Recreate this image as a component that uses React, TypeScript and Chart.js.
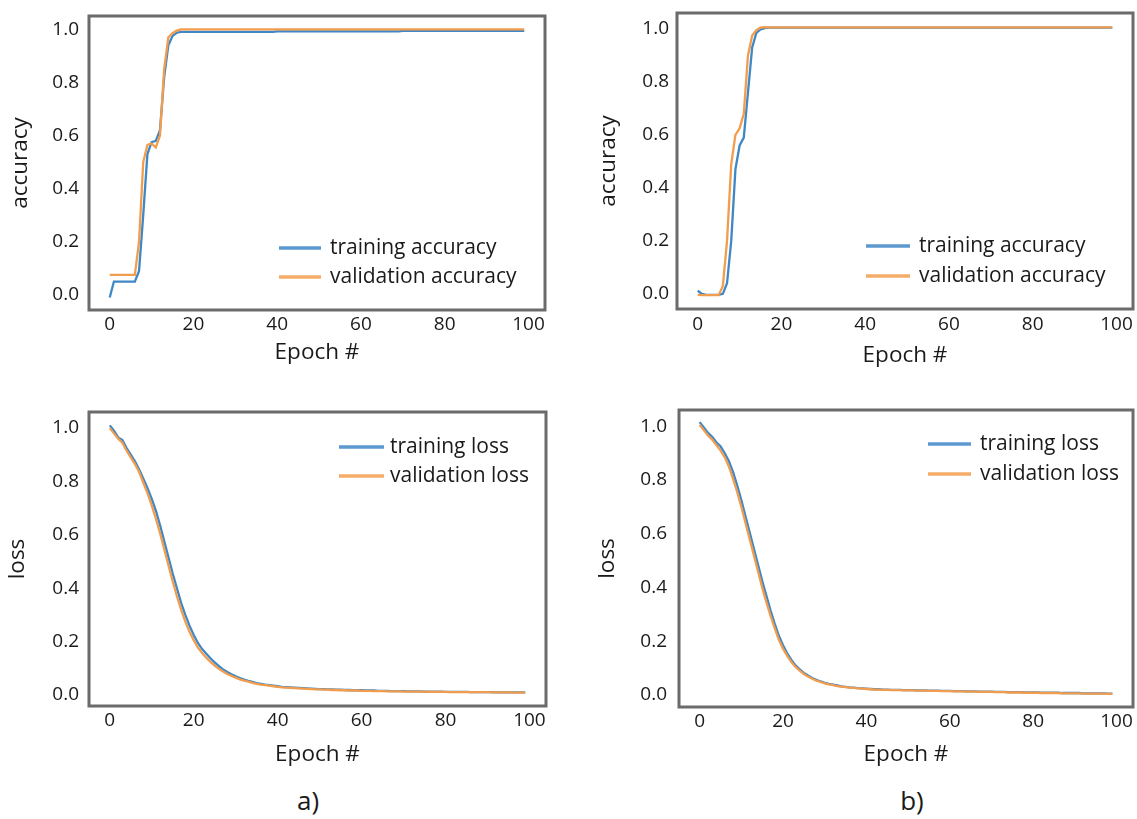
import React, { useEffect, useRef } from "react";
import { Chart, registerables } from "chart.js";
Chart.register(...registerables);

const epochs = [
  0, 1, 2, 3, 4, 5, 6, 7, 8, 9, 10, 11, 12, 13, 14, 15, 16, 17, 18, 19,
  20, 21, 22, 23, 24, 25, 26, 27, 28, 29, 30, 31, 32, 33, 34, 35, 36, 37, 38, 39,
  40, 41, 42, 43, 44, 45, 46, 47, 48, 49, 50, 51, 52, 53, 54, 55, 56, 57, 58, 59,
  60, 61, 62, 63, 64, 65, 66, 67, 68, 69, 70, 71, 72, 73, 74, 75, 76, 77, 78, 79,
  80, 81, 82, 83, 84, 85, 86, 87, 88, 89, 90, 91, 92, 93, 94, 95, 96, 97, 98, 99,
];
const xTickValues = [0, 20, 40, 60, 80, 100];
const yTickValues = [0, 0.2, 0.4, 0.6, 0.8, 1.0];

// a) accuracy
const accTrainA = [
  -0.01, 0.05, 0.05, 0.05, 0.05, 0.05, 0.05, 0.09, 0.3, 0.53,
  0.575, 0.58, 0.62, 0.82, 0.94, 0.975, 0.987, 0.99, 0.99, 0.99,
  0.99, 0.99, 0.99, 0.99, 0.99, 0.99, 0.99, 0.99, 0.99, 0.99,
  0.99, 0.99, 0.99, 0.99, 0.99, 0.99, 0.99, 0.99, 0.99, 0.99,
  0.992, 0.992, 0.992, 0.992, 0.992, 0.992, 0.992, 0.992, 0.992, 0.992,
  0.992, 0.992, 0.992, 0.992, 0.992, 0.992, 0.992, 0.992, 0.992, 0.992,
  0.992, 0.992, 0.992, 0.992, 0.992, 0.992, 0.992, 0.992, 0.992, 0.992,
  0.994, 0.994, 0.994, 0.994, 0.994, 0.994, 0.994, 0.994, 0.994, 0.994,
  0.994, 0.994, 0.994, 0.994, 0.994, 0.994, 0.994, 0.994, 0.994, 0.994,
  0.994, 0.994, 0.994, 0.994, 0.994, 0.994, 0.994, 0.994, 0.994, 0.994,
];
const accValA = [
  0.075, 0.075, 0.075, 0.075, 0.075, 0.075, 0.075, 0.2, 0.5, 0.565,
  0.57, 0.555, 0.6, 0.85, 0.97, 0.985, 0.995, 1.0, 1.0, 1.0,
  1.0, 1.0, 1.0, 1.0, 1.0, 1.0, 1.0, 1.0, 1.0, 1.0,
  1.0, 1.0, 1.0, 1.0, 1.0, 1.0, 1.0, 1.0, 1.0, 1.0,
  1.0, 1.0, 1.0, 1.0, 1.0, 1.0, 1.0, 1.0, 1.0, 1.0,
  1.0, 1.0, 1.0, 1.0, 1.0, 1.0, 1.0, 1.0, 1.0, 1.0,
  1.0, 1.0, 1.0, 1.0, 1.0, 1.0, 1.0, 1.0, 1.0, 1.0,
  1.0, 1.0, 1.0, 1.0, 1.0, 1.0, 1.0, 1.0, 1.0, 1.0,
  1.0, 1.0, 1.0, 1.0, 1.0, 1.0, 1.0, 1.0, 1.0, 1.0,
  1.0, 1.0, 1.0, 1.0, 1.0, 1.0, 1.0, 1.0, 1.0, 1.0,
];

// b) accuracy
const accTrainB = [
  0.012, 0.0, -0.004, -0.004, -0.004, -0.004, 0.0, 0.04, 0.2, 0.47,
  0.56, 0.59, 0.76, 0.93, 0.985, 0.998, 1.003, 1.005, 1.005, 1.005,
  1.005, 1.005, 1.005, 1.005, 1.005, 1.005, 1.005, 1.005, 1.005, 1.005,
  1.005, 1.005, 1.005, 1.005, 1.005, 1.005, 1.005, 1.005, 1.005, 1.005,
  1.005, 1.005, 1.005, 1.005, 1.005, 1.005, 1.005, 1.005, 1.005, 1.005,
  1.005, 1.005, 1.005, 1.005, 1.005, 1.005, 1.005, 1.005, 1.005, 1.005,
  1.005, 1.005, 1.005, 1.005, 1.005, 1.005, 1.005, 1.005, 1.005, 1.005,
  1.005, 1.005, 1.005, 1.005, 1.005, 1.005, 1.005, 1.005, 1.005, 1.005,
  1.005, 1.005, 1.005, 1.005, 1.005, 1.005, 1.005, 1.005, 1.005, 1.005,
  1.005, 1.005, 1.005, 1.005, 1.005, 1.005, 1.005, 1.005, 1.005, 1.005,
];
const accValB = [
  -0.004, -0.005, -0.005, -0.005, -0.005, -0.005, 0.03, 0.2, 0.49, 0.6,
  0.625, 0.68, 0.9, 0.975, 0.995, 1.005, 1.007, 1.006, 1.006, 1.006,
  1.006, 1.006, 1.006, 1.006, 1.006, 1.006, 1.006, 1.006, 1.006, 1.006,
  1.006, 1.006, 1.006, 1.006, 1.006, 1.006, 1.006, 1.006, 1.006, 1.006,
  1.006, 1.006, 1.006, 1.006, 1.006, 1.006, 1.006, 1.006, 1.006, 1.006,
  1.006, 1.006, 1.006, 1.006, 1.006, 1.006, 1.006, 1.006, 1.006, 1.006,
  1.006, 1.006, 1.006, 1.006, 1.006, 1.006, 1.006, 1.006, 1.006, 1.006,
  1.006, 1.006, 1.006, 1.006, 1.006, 1.006, 1.006, 1.006, 1.006, 1.006,
  1.006, 1.006, 1.006, 1.006, 1.006, 1.006, 1.006, 1.006, 1.006, 1.006,
  1.006, 1.006, 1.006, 1.006, 1.006, 1.006, 1.006, 1.006, 1.006, 1.006,
];

// a) loss
const lossTrainA = [
  1.01, 0.99, 0.965, 0.955, 0.925, 0.9, 0.875, 0.845, 0.81, 0.775,
  0.735, 0.69, 0.635, 0.575, 0.515, 0.455, 0.4, 0.345, 0.3, 0.26,
  0.225, 0.195, 0.172, 0.155, 0.138, 0.122, 0.108, 0.096, 0.086, 0.078,
  0.07, 0.064, 0.058, 0.053, 0.049, 0.045, 0.042, 0.039, 0.037, 0.035,
  0.033, 0.031, 0.03, 0.029, 0.028, 0.027, 0.026, 0.025, 0.024, 0.023,
  0.022, 0.022, 0.021, 0.021, 0.02, 0.02, 0.019, 0.019, 0.018, 0.018,
  0.018, 0.017, 0.017, 0.017, 0.016, 0.016, 0.016, 0.015, 0.015, 0.015,
  0.015, 0.014, 0.014, 0.014, 0.014, 0.013, 0.013, 0.013, 0.013, 0.013,
  0.012, 0.012, 0.012, 0.012, 0.012, 0.012, 0.011, 0.011, 0.011, 0.011,
  0.011, 0.011, 0.01, 0.01, 0.01, 0.01, 0.01, 0.01, 0.01, 0.01,
];
const lossValA = [
  1.0, 0.98, 0.96, 0.945, 0.915, 0.89, 0.865, 0.835, 0.795, 0.755,
  0.71, 0.66, 0.605, 0.545, 0.485, 0.425, 0.37, 0.32, 0.275, 0.237,
  0.205, 0.178, 0.157, 0.14, 0.124, 0.11, 0.098, 0.088, 0.079, 0.072,
  0.065, 0.059, 0.054, 0.05, 0.046, 0.042, 0.039, 0.037, 0.035, 0.033,
  0.031, 0.029, 0.028, 0.027, 0.026, 0.025, 0.024, 0.023, 0.022, 0.021,
  0.021, 0.02, 0.02, 0.019, 0.019, 0.018, 0.018, 0.017, 0.017, 0.017,
  0.016, 0.016, 0.016, 0.015, 0.015, 0.015, 0.014, 0.014, 0.014, 0.014,
  0.013, 0.013, 0.013, 0.013, 0.013, 0.013, 0.012, 0.012, 0.012, 0.012,
  0.012, 0.011, 0.011, 0.011, 0.011, 0.011, 0.011, 0.011, 0.011, 0.011,
  0.011, 0.01, 0.01, 0.01, 0.01, 0.01, 0.009, 0.009, 0.009, 0.009,
];

// b) loss
const lossTrainB = [
  1.015, 0.995, 0.975, 0.96, 0.94, 0.925, 0.9, 0.87, 0.83, 0.78,
  0.725, 0.665, 0.605, 0.545, 0.485, 0.425, 0.37, 0.315, 0.265, 0.22,
  0.185, 0.155, 0.13, 0.11, 0.095, 0.082, 0.072, 0.063, 0.056, 0.05,
  0.045, 0.041, 0.038, 0.035, 0.032, 0.03, 0.028, 0.027, 0.025, 0.024,
  0.023, 0.022, 0.021, 0.021, 0.02, 0.02, 0.019, 0.019, 0.019, 0.018,
  0.018, 0.018, 0.017, 0.017, 0.017, 0.016, 0.016, 0.016, 0.015, 0.015,
  0.015, 0.014, 0.014, 0.014, 0.013, 0.013, 0.013, 0.012, 0.012, 0.012,
  0.012, 0.011, 0.011, 0.011, 0.01, 0.01, 0.01, 0.01, 0.009, 0.009,
  0.009, 0.009, 0.008, 0.008, 0.008, 0.008, 0.008, 0.007, 0.007, 0.007,
  0.007, 0.007, 0.006, 0.006, 0.006, 0.006, 0.006, 0.006, 0.005, 0.005,
];
const lossValB = [
  1.005, 0.985, 0.965, 0.95, 0.93, 0.91, 0.885, 0.85, 0.805, 0.755,
  0.7, 0.64, 0.58, 0.52, 0.46, 0.4, 0.345, 0.295, 0.248, 0.205,
  0.172, 0.145, 0.122, 0.104, 0.09, 0.078, 0.068, 0.06, 0.053, 0.048,
  0.043, 0.039, 0.036, 0.033, 0.031, 0.029, 0.027, 0.026, 0.024, 0.023,
  0.022, 0.021, 0.02, 0.02, 0.019, 0.019, 0.018, 0.018, 0.018, 0.017,
  0.017, 0.017, 0.016, 0.016, 0.016, 0.015, 0.015, 0.015, 0.014, 0.014,
  0.014, 0.013, 0.013, 0.013, 0.012, 0.012, 0.012, 0.011, 0.011, 0.011,
  0.011, 0.01, 0.01, 0.01, 0.009, 0.009, 0.009, 0.009, 0.008, 0.008,
  0.008, 0.008, 0.007, 0.007, 0.007, 0.007, 0.007, 0.006, 0.006, 0.006,
  0.006, 0.006, 0.005, 0.005, 0.005, 0.005, 0.005, 0.005, 0.004, 0.004,
];

const BLUE = "#3f87c5";
const ORANGE = "#f29d4e";
const FONT = "'Open Sans', 'DejaVu Sans', sans-serif";

type Rect = { x: number; y: number; w: number; h: number };
type Area = { l: number; t: number; r: number; b: number };
type Panel = {
  canvas: Rect;
  area: Area;
  yTitle: string;
  yTitleX: number;
  xTitleY: number;
  yTickPad: number;
  xTickCenter: number;
  yMin: number;
  yMax: number;
  train: number[];
  val: number[];
  labels: [string, string];
  legend: { x1: number; x2: number; tx: number; y1: number; y2: number };
};

const panels: Panel[] = [
  {
    canvas: { x: 0, y: 0, w: 560, h: 375 },
    area: { l: 89, t: 16, r: 545, b: 310 },
    yTitle: "accuracy",
    yTitleX: 21,
    xTitleY: 353,
    yTickPad: 10,
    xTickCenter: 325,
    yMin: -0.057,
    yMax: 1.05,
    train: accTrainA,
    val: accValA,
    labels: ["training accuracy", "validation accuracy"],
    legend: { x1: 279, x2: 321, tx: 330, y1: 248, y2: 277 },
  },
  {
    canvas: { x: 585, y: 0, w: 552, h: 378 },
    area: { l: 677, t: 13, r: 1133, b: 309 },
    yTitle: "accuracy",
    yTitleX: 609,
    xTitleY: 356,
    yTickPad: 8,
    xTickCenter: 325,
    yMin: -0.057,
    yMax: 1.06,
    train: accTrainB,
    val: accValB,
    labels: ["training accuracy", "validation accuracy"],
    legend: { x1: 866, x2: 910, tx: 919, y1: 246, y2: 276 },
  },
  {
    canvas: { x: 0, y: 390, w: 560, h: 385 },
    area: { l: 89, t: 412, r: 546, b: 706 },
    yTitle: "loss",
    yTitleX: 18,
    xTitleY: 755,
    yTickPad: 10,
    xTickCenter: 721,
    yMin: -0.041,
    yMax: 1.06,
    train: lossTrainA,
    val: lossValA,
    labels: ["training loss", "validation loss"],
    legend: { x1: 339, x2: 384, tx: 390, y1: 447, y2: 476 },
  },
  {
    canvas: { x: 585, y: 390, w: 552, h: 385 },
    area: { l: 679, t: 410, r: 1133, b: 707 },
    yTitle: "loss",
    yTitleX: 608,
    xTitleY: 755,
    yTickPad: 12,
    xTickCenter: 722,
    yMin: -0.045,
    yMax: 1.06,
    train: lossTrainB,
    val: lossValB,
    labels: ["training loss", "validation loss"],
    legend: { x1: 928, x2: 971, tx: 980, y1: 444, y2: 474 },
  },
];

const TICK_SIZE = 19;
const TITLE_SIZE = 22.5;
const LEGEND_SIZE = 21;

function ChartPanel({ p }: { p: Panel }) {
  const ref = useRef<HTMLCanvasElement | null>(null);
  useEffect(() => {
    const canvas = ref.current;
    if (!canvas) return;
    const c = p.canvas;
    const a = p.area;
    const titleHalf = (TITLE_SIZE * 1.2) / 2;
    const yTitlePad = p.yTitleX - c.x - titleHalf;
    const xTitlePad = c.y + c.h - p.xTitleY - titleHalf;
    const xTickPad = p.xTickCenter - a.b - TICK_SIZE / 2;

    const frame = {
      id: "frame",
      afterDatasetsDraw(chart: any) {
        const { ctx, chartArea: ar } = chart;
        ctx.save();
        ctx.strokeStyle = "#6b6b6b";
        ctx.lineWidth = 3;
        ctx.strokeRect(ar.left, ar.top, ar.right - ar.left, ar.bottom - ar.top);
        ctx.restore();
      },
    };
    const innerLegend = {
      id: "innerLegend",
      afterDraw(chart: any) {
        const ctx = chart.ctx;
        const lg = p.legend;
        const rows = [lg.y1, lg.y2];
        ctx.save();
        chart.data.datasets.forEach((ds: any, i: number) => {
          const y = rows[i] - c.y;
          ctx.strokeStyle = ds.borderColor;
          ctx.globalAlpha = 0.85;
          ctx.lineWidth = 3.5;
          ctx.beginPath();
          ctx.moveTo(lg.x1 - c.x, y);
          ctx.lineTo(lg.x2 - c.x, y);
          ctx.stroke();
          ctx.globalAlpha = 1;
          ctx.fillStyle = "#1a1a1a";
          ctx.font = `${LEGEND_SIZE}px ${FONT}`;
          ctx.textAlign = "left";
          ctx.textBaseline = "middle";
          ctx.fillText(ds.label, lg.tx - c.x, y);
        });
        ctx.restore();
      },
    };

    const chart = new Chart(canvas, {
      type: "line",
      data: {
        datasets: [
          {
            label: p.labels[0],
            data: epochs.map((e, i) => ({ x: e, y: p.train[i] })),
            borderColor: BLUE,
            borderWidth: 2.3,
            pointRadius: 0,
            tension: 0,
            order: 1,
          },
          {
            label: p.labels[1],
            data: epochs.map((e, i) => ({ x: e, y: p.val[i] })),
            borderColor: ORANGE,
            borderWidth: 2.3,
            pointRadius: 0,
            tension: 0,
            order: 0,
          },
        ],
      },
      options: {
        animation: false,
        responsive: false,
        devicePixelRatio: 1,
        events: [],
        layout: {
          padding: { left: 0, top: a.t - c.y, right: c.x + c.w - a.r, bottom: 0 },
        },
        plugins: { legend: { display: false }, tooltip: { enabled: false } },
        scales: {
          x: {
            type: "linear",
            min: -4.95,
            max: 103.95,
            grid: { display: false, drawTicks: false },
            border: { display: false },
            afterBuildTicks(s: any) {
              s.ticks = xTickValues.map((v) => ({ value: v }));
            },
            afterFit(s: any) {
              s.height = c.y + c.h - a.b;
              s.paddingLeft = 0;
              s.paddingRight = 0;
            },
            ticks: {
              padding: xTickPad,
              color: "#1a1a1a",
              font: { family: FONT, size: TICK_SIZE, lineHeight: 1 },
              maxRotation: 0,
              autoSkip: false,
              callback: (v: any) => String(v),
            },
            title: {
              display: true,
              text: "Epoch #",
              color: "#1a1a1a",
              font: { family: FONT, size: TITLE_SIZE, lineHeight: 1.2 },
              padding: { top: 0, bottom: xTitlePad },
            },
          },
          y: {
            type: "linear",
            min: p.yMin,
            max: p.yMax,
            grid: { display: false, drawTicks: false },
            border: { display: false },
            afterBuildTicks(s: any) {
              s.ticks = yTickValues.map((v) => ({ value: v }));
            },
            afterFit(s: any) {
              s.width = a.l - c.x;
              s.paddingTop = 0;
              s.paddingBottom = 0;
            },
            ticks: {
              padding: p.yTickPad,
              color: "#1a1a1a",
              font: { family: FONT, size: TICK_SIZE, lineHeight: 1 },
              autoSkip: false,
              callback: (v: any) => Number(v).toFixed(1),
            },
            title: {
              display: true,
              text: p.yTitle,
              color: "#1a1a1a",
              font: { family: FONT, size: TITLE_SIZE, lineHeight: 1.2 },
              padding: { top: yTitlePad, bottom: 0 },
            },
          },
        },
      },
      plugins: [frame, innerLegend],
    } as any);
    return () => chart.destroy();
  }, [p]);
  return (
    <canvas
      ref={ref}
      width={p.canvas.w}
      height={p.canvas.h}
      style={{
        position: "absolute",
        left: p.canvas.x,
        top: p.canvas.y,
        width: p.canvas.w,
        height: p.canvas.h,
      }}
    />
  );
}

const captionStyle = (cx: number): React.CSSProperties => ({
  position: "absolute",
  left: cx - 30,
  width: 60,
  top: 783,
  textAlign: "center",
  fontFamily: FONT,
  fontSize: 26,
  lineHeight: "34px",
  color: "#1a1a1a",
});

export default function App() {
  return (
    <div
      style={{
        position: "absolute",
        left: 0,
        top: 0,
        width: 1137,
        height: 819,
        background: "#ffffff",
        overflow: "hidden",
      }}
    >
      {panels.map((p, i) => (
        <ChartPanel key={i} p={p} />
      ))}
      <div style={captionStyle(308)}>a)</div>
      <div style={captionStyle(912)}>b)</div>
    </div>
  );
}
